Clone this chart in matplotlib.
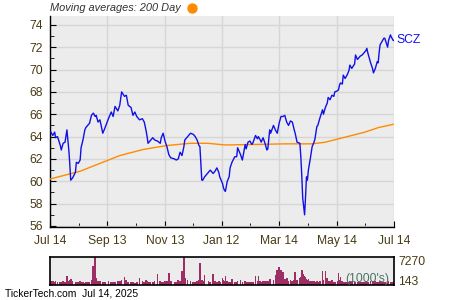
import matplotlib
matplotlib.use('Agg')
import matplotlib.pyplot as plt
from matplotlib.lines import Line2D
from matplotlib.ticker import FixedLocator, NullFormatter
import numpy as np
import pandas as pd

plt.rcParams['font.family'] = ['Liberation Sans', 'DejaVu Sans']

# Chart data (day offsets from Jul 14, 2024)
start = pd.Timestamp('2024-07-14')
end = pd.Timestamp('2025-07-14')

price_days = [
    1, 3, 5, 6, 8, 11, 12, 14, 16, 18,
    20, 21, 22, 24, 27, 28, 30, 32, 33, 35,
    37, 38, 40, 42, 44, 46, 48, 49, 51, 53,
    56, 58, 62, 65, 67, 69, 72, 74, 76, 79,
    81, 83, 86, 88, 90, 92, 95, 98, 100, 102,
    103, 104, 106, 109, 111, 114, 117, 118, 120, 122,
    124, 126, 128, 132, 134, 136, 138, 140, 142, 143,
    146, 149, 152, 154, 156, 158, 159, 161, 162, 164,
    168, 170, 173, 175, 177, 179, 180, 183, 184, 185,
    186, 188, 190, 191, 193, 196, 198, 199, 202, 204,
    207, 208, 210, 212, 214, 215, 218, 220, 221, 223,
    224, 226, 228, 230, 231, 233, 234, 237, 239, 241,
    243, 245, 247, 249, 251, 253, 255, 257, 259, 260,
    262, 265, 266, 267, 268, 270, 271, 272, 273, 274,
    276, 278, 280, 281, 283, 284, 286, 289, 290, 292,
    294, 295, 297, 299, 301, 302, 305, 306, 307, 308,
    310, 311, 313, 315, 317, 318, 320, 323, 324, 326,
    327, 329, 331, 333, 335, 336, 337, 340, 342, 343,
    345, 347, 348, 349, 350, 352, 354, 355, 358, 359,
    361, 362, 364, 365,
]
prices = [
    64.4, 64.1, 64.4, 63.9, 64.0, 63.2, 62.8, 63.4, 63.5, 64.6,
    62.8, 61.6, 60.1, 60.3, 60.8, 61.7, 61.6, 61.9, 63.0, 63.7,
    64.6, 64.8, 65.0, 65.2, 65.9, 66.1, 65.8, 65.9, 65.3, 65.5,
    64.3, 64.7, 65.6, 66.2, 65.8, 66.7, 66.3, 66.8, 68.0, 67.6,
    67.7, 66.8, 66.6, 65.9, 66.2, 65.8, 65.5, 65.6, 65.3, 64.5,
    64.0, 63.4, 63.6, 63.9, 63.7, 63.6, 63.4, 63.9, 64.3, 63.6,
    63.1, 62.4, 62.1, 62.0, 61.9, 62.0, 62.6, 62.3, 63.1, 63.7,
    64.0, 64.3, 64.2, 64.0, 63.7, 63.2, 63.1, 60.1, 60.1, 60.4,
    60.8, 61.0, 60.7, 60.9, 61.2, 60.8, 60.4, 59.8, 59.4, 59.2,
    59.1, 60.0, 60.4, 61.2, 61.7, 62.2, 62.2, 63.0, 62.4, 61.9,
    63.3, 62.9, 63.5, 63.6, 63.3, 63.4, 64.1, 63.8, 64.0, 63.7,
    63.5, 63.9, 63.4, 62.8, 62.9, 64.6, 64.3, 65.0, 64.6, 64.3,
    65.2, 65.8, 65.8, 65.9, 65.3, 65.0, 65.4, 65.3, 64.6, 64.3,
    63.5, 63.4, 62.2, 60.5, 58.5, 57.0, 58.6, 60.4, 60.1, 61.0,
    62.0, 63.1, 63.5, 63.8, 64.9, 65.0, 65.6, 66.4, 66.0, 66.6,
    67.0, 67.5, 67.3, 67.7, 67.6, 68.0, 68.1, 68.2, 68.6, 68.8,
    68.7, 69.5, 69.2, 69.5, 69.9, 70.4, 70.1, 70.5, 71.3, 70.9,
    71.0, 71.2, 71.3, 71.5, 71.7, 71.9, 71.5, 70.6, 70.1, 69.7,
    70.1, 70.7, 70.6, 71.5, 72.2, 72.5, 72.8, 72.8, 72.0, 72.6,
    73.1, 72.9, 72.6, 72.6,
]
# volume in thousands, same days as prices
volume = [
    900, 1100, 800, 1000, 700, 650, 800, 900, 700, 2300,
    1000, 1300, 1450, 1100, 800, 700, 800, 900, 800, 650,
    600, 800, 700, 850, 1400, 4870, 7270, 1800, 1000, 900,
    800, 650, 900, 750, 700, 850, 1000, 900, 1300, 2140,
    1200, 800, 700, 850, 600, 700, 1700, 900, 700, 1200,
    1000, 750, 850, 700, 900, 2800, 1100, 850, 750, 1000,
    900, 3000, 1000, 850, 750, 1300, 900, 3680, 7270, 1800,
    1200, 900, 750, 850, 1000, 1200, 5730, 1200, 1000, 2570,
    900, 850, 2740, 1000, 850, 900, 750, 1880, 1200, 900,
    2300, 1000, 800, 850, 1450, 700, 750, 1100, 1280, 800,
    900, 750, 800, 850, 700, 800, 2300, 1000, 2300, 900,
    800, 900, 1000, 1100, 900, 1450, 1000, 1200, 2570, 3850,
    4530, 3850, 3420, 1500, 1700, 1100, 1280, 1000, 1200, 3420,
    1300, 1700, 2000, 3850, 2800, 2400, 2140, 1600, 1300, 1450,
    1100, 1000, 900, 850, 1000, 800, 900, 3680, 1200, 3680,
    1700, 1000, 900, 1280, 800, 750, 900, 3000, 1200, 2140,
    900, 800, 750, 850, 700, 900, 800, 750, 850, 700,
    800, 750, 700, 850, 900, 800, 750, 1000, 900, 1100,
    900, 800, 850, 750, 900, 800, 700, 850, 800, 900,
    800, 750, 850, 700,
]

ma_days = [0, 16, 32, 53, 74, 99, 124, 149, 167, 186, 221, 249, 278, 292, 306, 320, 334, 348, 364]
ma_200 = [60.2, 60.55, 60.9, 61.6, 62.3, 62.85, 63.2, 63.4, 63.4, 63.25, 63.3, 63.35,
          63.35, 63.5, 63.8, 64.1, 64.4, 64.8, 65.1]

tick_dates = ['2024-07-14', '2024-09-13', '2024-11-13', '2025-01-12',
              '2025-03-14', '2025-05-14', '2025-07-14']
tick_labels = ['Jul 14', 'Sep 13', 'Nov 13', 'Jan 12', 'Mar 14', 'May 14', 'Jul 14']
vol_max, vol_min = 7270, 143

label_color = '#4a3b16'
bg = '#ececec'
grid_color = '#d6d6d6'

dates = start + pd.to_timedelta(price_days, unit='D')
ma_dates = start + pd.to_timedelta(ma_days, unit='D')
major = pd.to_datetime(tick_dates)
minor = major[:-1] + (major[1:] - major[:-1]) / 2

fig = plt.figure(figsize=(4.5, 3), dpi=100)
ax = fig.add_axes([0.111, 0.243, 0.765, 0.704])
vax = fig.add_axes([0.111, 0.05, 0.765, 0.095])

# price chart
ax.set_facecolor(bg)
ax.plot(ma_dates, ma_200, color='#ff8c00', lw=1.0, zorder=3)
ax.plot(dates, prices, color='#1010e8', lw=1.0, zorder=4)
ax.text(dates[-1] + pd.Timedelta(days=2), prices[-1], 'SCZ', color='#1010e8',
        fontsize=8.7, va='center', ha='left', clip_on=False)

ax.set_xlim(start, end)
ax.set_ylim(55.9, 74.8)
ax.xaxis.set_major_locator(FixedLocator(matplotlib.dates.date2num(major)))
ax.xaxis.set_minor_locator(FixedLocator(matplotlib.dates.date2num(minor)))
ax.set_xticklabels(tick_labels)
ax.xaxis.set_minor_formatter(NullFormatter())
ax.set_yticks(np.arange(56, 75, 2))
ax.set_yticks(np.arange(57, 75, 2), minor=True)
ax.grid(True, which='major', color=grid_color, lw=1.0, zorder=0)
ax.set_axisbelow(True)
ax.tick_params(which='both', direction='in', colors='black', labelcolor=label_color,
               labelsize=8.7)
ax.tick_params(which='major', length=4)
ax.tick_params(which='minor', length=3)
ax.tick_params(axis='x', pad=6)
ax.tick_params(axis='y', pad=5)
for side in ['top', 'right']:
    ax.spines[side].set_visible(False)
for side in ['left', 'bottom']:
    ax.spines[side].set_color('black')
    ax.spines[side].set_linewidth(1.0)

# volume chart
vax.set_facecolor(bg)
vax.bar(dates, volume, width=1.8, color='#9c2e63', linewidth=0)
vax.set_xlim(start, end)
vax.set_ylim(0, vol_max)
vax.set_xticks([])
vax.set_yticks([])
for side in vax.spines.values():
    side.set_color('black')
    side.set_linewidth(1.2)
vax.text(1.012, 0.79, f'{vol_max}', transform=vax.transAxes, fontsize=8.7,
         color=label_color, va='center', ha='left')
vax.text(1.012, 0.12, f'{vol_min}', transform=vax.transAxes, fontsize=8.7,
         color=label_color, va='center', ha='left')
vax.text(0.985, 0.2, "(1000's)", transform=vax.transAxes, fontsize=8.7,
         color='#4e7263', va='center', ha='right')

# header and footer
fig.text(0.111, 0.973, 'Moving averages: 200 Day', fontsize=7.9, style='italic',
         color='#333333', va='center', ha='left')
fig.add_artist(Line2D([0.427], [0.973], transform=fig.transFigure, marker='o',
                      markersize=6.5, color='#ff8c00', linestyle='none'))
fig.text(0.011, 0.02, 'TickerTech.com  Jul 14, 2025', fontsize=7.4, color='black',
         va='center', ha='left')

fig.savefig('out.png', dpi=100)
